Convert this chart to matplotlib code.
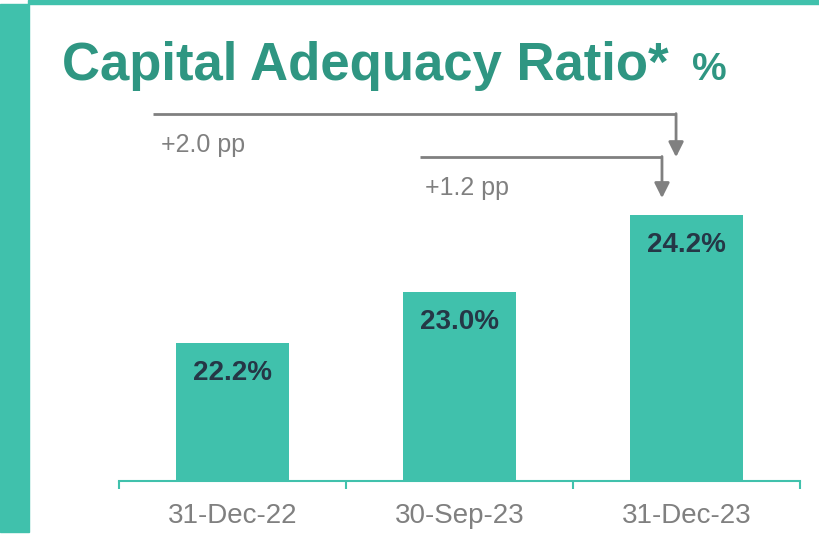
import matplotlib
matplotlib.use('Agg')
import matplotlib.pyplot as plt
from matplotlib.patches import Rectangle

# dados
datas = ['31-Dec-22', '30-Sep-23', '31-Dec-23']
valores = [22.2, 23.0, 24.2]

TEAL = '#40C1AC'
TEAL_ESCURO = '#2F9682'
CINZA = '#808080'
AZUL_ESCURO = '#253746'

plt.rcParams['font.family'] = ['Liberation Sans', 'DejaVu Sans']

fig = plt.figure(figsize=(8.2, 5.45), dpi=100)
W, H = 820, 545

# moldura decorativa (barra no topo e a esquerda)
fig.patches.append(Rectangle((28 / W, 1 - 4 / H), 1, 4 / H, transform=fig.transFigure,
                             color=TEAL, zorder=0))
fig.patches.append(Rectangle((0, 1 - 532 / H), 29 / W, 528 / H, transform=fig.transFigure,
                             color=TEAL, zorder=0))

# titulo
fig.text(62 / W, 1 - 80 / H, 'Capital Adequacy Ratio*', fontsize=38, fontweight='bold',
         color=TEAL_ESCURO, va='baseline', ha='left')
fig.text(692 / W, 1 - 80 / H, '%', fontsize=28, fontweight='bold',
         color=TEAL_ESCURO, va='baseline', ha='left')

ax = fig.add_axes([119 / W, (H - 481) / H, 681 / W, 384 / H])
x = list(range(len(datas)))
ax.bar(x, valores, width=0.5, color=TEAL, zorder=2)
ax.set_xlim(-0.5, 2.5)
ax.set_ylim(20.05, 26.05)

for i, v in zip(x, valores):
    ax.annotate(f'{v:.1f}%', (i, v), xytext=(0, -30), textcoords='offset pixels',
                ha='center', va='center', fontsize=20, fontweight='bold',
                color=AZUL_ESCURO, zorder=3)

for s in ['top', 'right', 'left']:
    ax.spines[s].set_visible(False)
ax.spines['bottom'].set_color(TEAL)
ax.spines['bottom'].set_linewidth(1.5)
ax.set_yticks([])
ax.set_xticks(x)
ax.set_xticklabels(datas)
ax.set_xticks([-0.5, 0.5, 1.5, 2.5], minor=True)
ax.tick_params(axis='x', which='major', length=0, pad=16, labelsize=20, labelcolor=CINZA)
ax.tick_params(axis='x', which='minor', length=6, width=1.5, color=TEAL, direction='out')

# setas de variacao
def seta(x0, x1, y0, y1, texto, tx, ty):
    ax.plot([x0, x1], [y0, y0], color=CINZA, lw=2, solid_capstyle='butt', clip_on=False)
    ax.annotate('', xy=(x1, y1), xytext=(x1, y0 + 0.01),
                arrowprops=dict(arrowstyle='-|>,head_length=0.9,head_width=0.45',
                                color=CINZA, lw=2, shrinkA=0, shrinkB=0),
                annotation_clip=False)
    ax.text(tx, ty, texto, fontsize=18, color=CINZA, ha='left', va='center')

d1 = valores[2] - valores[0]
d2 = valores[2] - valores[1]
seta(x[0] - 0.35, x[2] - 0.046, 25.78, 25.11, f'+{d1:.1f} pp', x[0] - 0.317, 25.3)
seta(x[1] - 0.174, x[2] - 0.108, 25.11, 24.47, f'+{d2:.1f} pp', x[1] - 0.152, 24.63)

fig.savefig('out.png', dpi=100)
